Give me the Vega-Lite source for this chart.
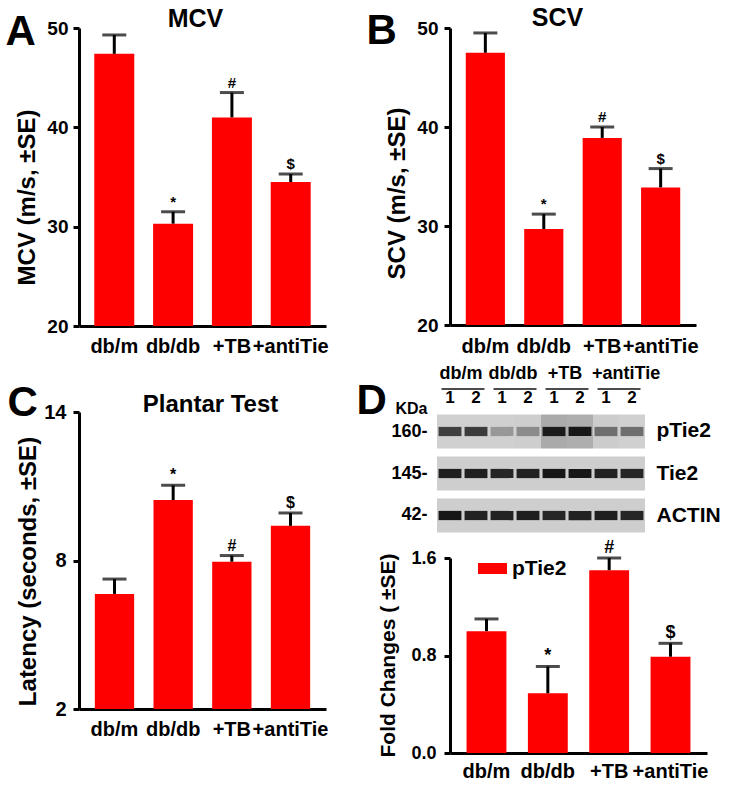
{
  "$schema": "https://vega.github.io/schema/vega-lite/v6.json",
  "padding": 5,
  "background": "white",
  "datasets": {
    "mcv": [
      {"group": "db/m", "value": 47.4, "upper": 49.3, "sig": ""},
      {"group": "db/db", "value": 30.3, "upper": 31.5, "sig": "*"},
      {"group": "+TB", "value": 41.0, "upper": 43.5, "sig": "#"},
      {"group": "+antiTie", "value": 34.5, "upper": 35.3, "sig": "$"}
    ],
    "scv": [
      {"group": "db/m", "value": 47.5, "upper": 49.5, "sig": ""},
      {"group": "db/db", "value": 29.7, "upper": 31.2, "sig": "*"},
      {"group": "+TB", "value": 38.9, "upper": 40.0, "sig": "#"},
      {"group": "+antiTie", "value": 33.9, "upper": 35.8, "sig": "$"}
    ],
    "plantar": [
      {"group": "db/m", "value": 6.65, "upper": 7.25, "sig": ""},
      {"group": "db/db", "value": 10.44, "upper": 11.04, "sig": "*"},
      {"group": "+TB", "value": 7.95, "upper": 8.2, "sig": "#"},
      {"group": "+antiTie", "value": 9.4, "upper": 9.92, "sig": "$"}
    ],
    "fold": [
      {"group": "db/m", "series": "pTie2", "value": 1.0, "upper": 1.1, "sig": ""},
      {"group": "db/db", "series": "pTie2", "value": 0.49, "upper": 0.71, "sig": "*"},
      {"group": "+TB", "series": "pTie2", "value": 1.5, "upper": 1.6, "sig": "#"},
      {"group": "+antiTie", "series": "pTie2", "value": 0.79, "upper": 0.9, "sig": "$"}
    ],
    "groups": [
      {"group": "db/m"}, {"group": "db/db"}, {"group": "+TB"}, {"group": "+antiTie"}
    ],
    "blot": [
      {"protein": "pTie2", "lane": "db/m-1", "intensity": 0.74, "bg": 0.05},
      {"protein": "pTie2", "lane": "db/m-2", "intensity": 0.76, "bg": 0.05},
      {"protein": "pTie2", "lane": "db/db-1", "intensity": 0.3, "bg": 0.05},
      {"protein": "pTie2", "lane": "db/db-2", "intensity": 0.36, "bg": 0.06},
      {"protein": "pTie2", "lane": "+TB-1", "intensity": 0.95, "bg": 0.22},
      {"protein": "pTie2", "lane": "+TB-2", "intensity": 0.97, "bg": 0.2},
      {"protein": "pTie2", "lane": "+antiTie-1", "intensity": 0.5, "bg": 0.07},
      {"protein": "pTie2", "lane": "+antiTie-2", "intensity": 0.5, "bg": 0.05},
      {"protein": "Tie2", "lane": "db/m-1", "intensity": 0.92, "bg": 0.06},
      {"protein": "Tie2", "lane": "db/m-2", "intensity": 0.92, "bg": 0.06},
      {"protein": "Tie2", "lane": "db/db-1", "intensity": 0.88, "bg": 0.06},
      {"protein": "Tie2", "lane": "db/db-2", "intensity": 0.9, "bg": 0.06},
      {"protein": "Tie2", "lane": "+TB-1", "intensity": 0.97, "bg": 0.06},
      {"protein": "Tie2", "lane": "+TB-2", "intensity": 0.96, "bg": 0.06},
      {"protein": "Tie2", "lane": "+antiTie-1", "intensity": 0.9, "bg": 0.06},
      {"protein": "Tie2", "lane": "+antiTie-2", "intensity": 0.88, "bg": 0.06},
      {"protein": "ACTIN", "lane": "db/m-1", "intensity": 0.97, "bg": 0.06},
      {"protein": "ACTIN", "lane": "db/m-2", "intensity": 0.9, "bg": 0.06},
      {"protein": "ACTIN", "lane": "db/db-1", "intensity": 0.9, "bg": 0.06},
      {"protein": "ACTIN", "lane": "db/db-2", "intensity": 0.92, "bg": 0.06},
      {"protein": "ACTIN", "lane": "+TB-1", "intensity": 0.88, "bg": 0.06},
      {"protein": "ACTIN", "lane": "+TB-2", "intensity": 0.9, "bg": 0.06},
      {"protein": "ACTIN", "lane": "+antiTie-1", "intensity": 0.92, "bg": 0.06},
      {"protein": "ACTIN", "lane": "+antiTie-2", "intensity": 0.88, "bg": 0.06}
    ]
  },
  "spacing": 27,
  "hconcat": [
    {
      "vconcat": [
        {
          "width": 247, "height": 298,
          "data": {"name": "mcv"},
          "layer": [
            {"layer": [
              {"mark": {"type": "bar", "color": "#ff0000"},
               "encoding": {
                 "x": {"field": "group", "type": "nominal", "scale": {"domain": ["db/m", "db/db", "+TB", "+antiTie"], "paddingInner": 0.32, "paddingOuter": 0.26},
                       "axis": {"title": null, "ticks": false, "labelAngle": 0, "labelPadding": 10, "labelFontSize": 20}},
                 "y": {"field": "value", "type": "quantitative", "scale": {"domain": [20, 50], "nice": false, "zero": false},
                       "axis": {"values": [20, 30, 40, 50], "title": "MCV (m/s, ±SE)", "titleFontSize": 24, "titleX": -45, "titleY": 169, "titleAngle": -90, "titleAlign": "center", "titleBaseline": "alphabetic", "labelFontSize": 19, "labelPadding": 5}},
                 "y2": {"datum": 20}
               }},
              {"mark": {"type": "rule", "color": "#000", "strokeWidth": 3},
               "encoding": {"x": {"field": "group", "type": "nominal"}, "y": {"field": "value", "type": "quantitative"}, "y2": {"field": "upper"}}},
              {"mark": {"type": "text", "fontSize": 15, "fontWeight": "bold", "dy": -5, "baseline": "alphabetic"},
               "encoding": {"x": {"field": "group", "type": "nominal"}, "y": {"field": "upper", "type": "quantitative"}, "text": {"field": "sig"}}}
            ]},
            {"mark": {"type": "tick", "orient": "horizontal", "size": 24, "thickness": 3, "color": "#000"},
             "encoding": {
               "x": {"field": "group", "type": "nominal", "scale": {"domain": ["db/m", "db/db", "+TB", "+antiTie"], "paddingInner": 0.32, "paddingOuter": 0.26},
                     "axis": {"orient": "top", "labels": false, "ticks": false, "domain": false, "title": "MCV", "titleFontSize": 25, "titleX": 116, "titleY": -2, "titleAlign": "center", "titleBaseline": "alphabetic"}},
               "y": {"field": "upper", "type": "quantitative", "scale": {"domain": [20, 50], "nice": false, "zero": false},
                     "axis": {"orient": "left", "labels": false, "ticks": false, "domain": false, "title": "A", "titleFontSize": 42, "titleX": -74, "titleY": 16, "titleAngle": 0, "titleAlign": "left", "titleBaseline": "alphabetic"}}
             }}
          ],
          "resolve": {"scale": {"x": "independent", "y": "independent"}}
        },
        {
          "width": 247, "height": 297,
          "data": {"name": "plantar"},
          "layer": [
            {"layer": [
              {"mark": {"type": "bar", "color": "#ff0000"},
               "encoding": {
                 "x": {"field": "group", "type": "nominal", "scale": {"domain": ["db/m", "db/db", "+TB", "+antiTie"], "paddingInner": 0.33, "paddingOuter": 0.27},
                       "axis": {"title": null, "ticks": false, "labelAngle": 0, "labelPadding": 10, "labelFontSize": 20}},
                 "y": {"field": "value", "type": "quantitative", "scale": {"domain": [2, 14], "nice": false, "zero": false},
                       "axis": {"values": [2, 8, 14], "title": "Latency (seconds, ±SE)", "titleFontSize": 24, "titleX": -44, "titleY": 159, "titleAngle": -90, "titleAlign": "center", "titleBaseline": "alphabetic", "labelFontSize": 20, "labelPadding": 7}},
                 "y2": {"datum": 2}
               }},
              {"mark": {"type": "rule", "color": "#000", "strokeWidth": 3},
               "encoding": {"x": {"field": "group", "type": "nominal"}, "y": {"field": "value", "type": "quantitative"}, "y2": {"field": "upper"}}},
              {"mark": {"type": "text", "fontSize": 16, "fontWeight": "bold", "dy": -5, "baseline": "alphabetic"},
               "encoding": {"x": {"field": "group", "type": "nominal"}, "y": {"field": "upper", "type": "quantitative"}, "text": {"field": "sig"}}}
            ]},
            {"mark": {"type": "tick", "orient": "horizontal", "size": 24, "thickness": 3, "color": "#000"},
             "encoding": {
               "x": {"field": "group", "type": "nominal", "scale": {"domain": ["db/m", "db/db", "+TB", "+antiTie"], "paddingInner": 0.33, "paddingOuter": 0.27},
                     "axis": {"orient": "top", "labels": false, "ticks": false, "domain": false, "title": "Plantar Test", "titleFontSize": 24, "titleX": 131, "titleY": -1, "titleAlign": "center", "titleBaseline": "alphabetic"}},
               "y": {"field": "upper", "type": "quantitative", "scale": {"domain": [2, 14], "nice": false, "zero": false},
                     "axis": {"orient": "left", "labels": false, "ticks": false, "domain": false, "title": "C", "titleFontSize": 42, "titleX": -72, "titleY": 3, "titleAngle": 0, "titleAlign": "left", "titleBaseline": "alphabetic"}}
             }}
          ],
          "resolve": {"scale": {"x": "independent", "y": "independent"}}
        }
      ],
      "spacing": 86,
      "bounds": "flush"
    },
    {
      "vconcat": [
        {
          "width": 246, "height": 297,
          "data": {"name": "scv"},
          "layer": [
            {"layer": [
              {"mark": {"type": "bar", "color": "#ff0000"},
               "encoding": {
                 "x": {"field": "group", "type": "nominal", "scale": {"domain": ["db/m", "db/db", "+TB", "+antiTie"], "paddingInner": 0.33, "paddingOuter": 0.27},
                       "axis": {"title": null, "ticks": false, "labelAngle": 0, "labelPadding": 11, "labelFontSize": 20}},
                 "y": {"field": "value", "type": "quantitative", "scale": {"domain": [20, 50], "nice": false, "zero": false},
                       "axis": {"values": [20, 30, 40, 50], "title": "SCV (m/s, ±SE)", "titleFontSize": 24, "titleX": -46, "titleY": 165, "titleAngle": -90, "titleAlign": "center", "titleBaseline": "alphabetic", "labelFontSize": 19, "labelPadding": 6}},
                 "y2": {"datum": 20}
               }},
              {"mark": {"type": "rule", "color": "#000", "strokeWidth": 3},
               "encoding": {"x": {"field": "group", "type": "nominal"}, "y": {"field": "value", "type": "quantitative"}, "y2": {"field": "upper"}}},
              {"mark": {"type": "text", "fontSize": 15, "fontWeight": "bold", "dy": -5, "baseline": "alphabetic"},
               "encoding": {"x": {"field": "group", "type": "nominal"}, "y": {"field": "upper", "type": "quantitative"}, "text": {"field": "sig"}}}
            ]},
            {"mark": {"type": "tick", "orient": "horizontal", "size": 24, "thickness": 3, "color": "#000"},
             "encoding": {
               "x": {"field": "group", "type": "nominal", "scale": {"domain": ["db/m", "db/db", "+TB", "+antiTie"], "paddingInner": 0.33, "paddingOuter": 0.27},
                     "axis": {"orient": "top", "labels": false, "ticks": false, "domain": false, "title": "SCV", "titleFontSize": 25, "titleX": 107, "titleY": -3, "titleAlign": "center", "titleBaseline": "alphabetic"}},
               "y": {"field": "upper", "type": "quantitative", "scale": {"domain": [20, 50], "nice": false, "zero": false},
                     "axis": {"orient": "left", "labels": false, "ticks": false, "domain": false, "title": "B", "titleFontSize": 42, "titleX": -84, "titleY": 15, "titleAngle": 0, "titleAlign": "left", "titleBaseline": "alphabetic"}}
             }}
          ],
          "resolve": {"scale": {"x": "independent", "y": "independent"}}
        },
        {
          "width": 195, "height": 44,
          "data": {"name": "groups"},
          "layer": [
            {"transform": [{"filter": "datum.group != '+antiTie'"}],
             "mark": {"type": "text", "align": "center", "baseline": "middle", "fontSize": 18, "fontWeight": "bold", "dx": -2},
             "encoding": {
               "x": {"field": "group", "type": "nominal", "scale": {"domain": ["db/m", "db/db", "+TB", "+antiTie"], "range": [-13, 195], "paddingInner": 0, "paddingOuter": 0}, "axis": null},
               "y": {"datum": "label", "type": "nominal", "scale": {"type": "point", "domain": ["label", "line"], "padding": 0.967, "align": 1}, "axis": null},
               "text": {"field": "group"}
             }},
            {"transform": [{"filter": "datum.group == '+antiTie'"}],
             "mark": {"type": "text", "align": "left", "baseline": "middle", "fontSize": 18, "fontWeight": "bold", "dx": -1},
             "encoding": {
               "x": {"field": "group", "type": "nominal", "bandPosition": 0},
               "y": {"datum": "label", "type": "nominal"},
               "text": {"field": "group"}
             }},
            {"mark": {"type": "tick", "orient": "horizontal", "size": 43, "thickness": 2, "color": "#000"},
             "encoding": {
               "x": {"field": "group", "type": "nominal"},
               "y": {"datum": "line", "type": "nominal"}
             }}
          ]
        },
        {
          "width": 195, "height": 129,
          "data": {"name": "blot"},
          "layer": [
            {"mark": {"type": "rect"},
             "encoding": {
               "x": {"field": "lane", "type": "nominal", "scale": {"domain": ["db/m-1", "db/m-2", "db/db-1", "db/db-2", "+TB-1", "+TB-2", "+antiTie-1", "+antiTie-2"], "range": [-13, 195], "paddingInner": 0, "paddingOuter": 0},
                     "axis": {"orient": "top", "ticks": false, "domain": false, "labelExpr": "slice(datum.label, -1)", "labelPadding": 3, "labelFontSize": 17, "labelAngle": 0, "title": null}},
               "y": {"field": "protein", "type": "nominal", "scale": {"domain": ["pTie2", "Tie2", "ACTIN"], "paddingInner": 0.19, "paddingOuter": 0.131},
                     "axis": {"orient": "left", "ticks": false, "domain": false, "labelExpr": "datum.label == 'pTie2' ? '160-' : datum.label == 'Tie2' ? '145-' : '42-'", "labelPadding": 23, "labelFontSize": 18, "title": "KDa", "titleAngle": 0, "titleX": -23, "titleY": 4, "titleAlign": "right", "titleBaseline": "alphabetic", "titleFontSize": 16}},
               "color": {"field": "bg", "type": "quantitative", "scale": {"domain": [0, 1], "range": ["#dcdcdc", "#111111"]}, "legend": null}
             }},
            {"mark": {"type": "rect"},
             "encoding": {
               "x": {"field": "lane", "type": "nominal", "scale": {"domain": ["db/m-1", "db/m-2", "db/db-1", "db/db-2", "+TB-1", "+TB-2", "+antiTie-1", "+antiTie-2"], "range": [-13, 195], "paddingInner": 0.12, "paddingOuter": 0.06},
                     "axis": {"orient": "bottom", "labels": false, "ticks": false, "domain": false, "title": "D", "titleFontSize": 42, "titleX": -94, "titleY": -125, "titleAngle": 0, "titleAlign": "left", "titleBaseline": "alphabetic"}},
               "y": {"field": "protein", "type": "nominal", "scale": {"domain": ["pTie2", "Tie2", "ACTIN"], "paddingInner": 0.78, "paddingOuter": 0.4255},
                     "axis": {"orient": "right", "ticks": false, "domain": false, "labelPadding": 11, "labelFontSize": 21, "title": null}},
               "color": {"field": "intensity", "type": "quantitative", "scale": {"domain": [0, 1], "range": ["#dcdcdc", "#111111"]}, "legend": null}
             }}
          ],
          "resolve": {"scale": {"x": "independent", "y": "independent"}}
        },
        {
          "width": 257, "height": 195,
          "data": {"name": "fold"},
          "layer": [
            {"mark": {"type": "bar"},
             "encoding": {
               "x": {"field": "group", "type": "nominal", "scale": {"domain": ["db/m", "db/db", "+TB", "+antiTie"], "paddingInner": 0.35, "paddingOuter": 0.27},
                     "axis": {"title": null, "ticks": false, "labelAngle": 0, "labelPadding": 8, "labelFontSize": 20}},
               "y": {"field": "value", "type": "quantitative", "scale": {"domain": [0, 1.6], "nice": false},
                     "axis": {"values": [0, 0.8, 1.6], "format": ".1f", "title": "Fold Changes ( ±SE)", "titleFontSize": 21, "titleX": -56, "titleY": 97, "titleAngle": -90, "titleAlign": "center", "titleBaseline": "alphabetic", "labelFontSize": 18, "labelPadding": 8}},
               "color": {"field": "series", "type": "nominal", "scale": {"range": ["#ff0000"]},
                         "legend": {"orient": "none", "legendX": 28, "legendY": -4, "title": null, "symbolType": "M-1,-0.38H1V0.38H-1Z", "symbolSize": 841, "symbolStrokeWidth": 0, "symbolOpacity": 1, "labelFontSize": 21, "labelFontWeight": "bold", "labelColor": "#000", "labelOffset": 5, "padding": 0}}
             }},
            {"mark": {"type": "rule", "color": "#000", "strokeWidth": 3},
             "encoding": {"x": {"field": "group", "type": "nominal"}, "y": {"field": "value", "type": "quantitative"}, "y2": {"field": "upper"}}},
            {"mark": {"type": "tick", "orient": "horizontal", "size": 24, "thickness": 3, "color": "#000"},
             "encoding": {"x": {"field": "group", "type": "nominal"}, "y": {"field": "upper", "type": "quantitative"}}},
            {"mark": {"type": "text", "fontSize": 18, "fontWeight": "bold", "dy": -5, "baseline": "alphabetic"},
             "encoding": {"x": {"field": "group", "type": "nominal"}, "y": {"field": "upper", "type": "quantitative"}, "text": {"field": "sig"}}}
          ]
        }
      ],
      "spacing": 20,
      "bounds": "flush"
    }
  ],
  "config": {
    "font": "Liberation Sans",
    "view": {"stroke": null},
    "axis": {"grid": false, "domainColor": "#000", "domainWidth": 3, "tickColor": "#000", "tickWidth": 3, "tickSize": 6, "labelColor": "#000", "titleColor": "#000", "labelFont": "Liberation Sans", "titleFont": "Liberation Sans", "labelFontWeight": "bold", "titleFontWeight": "bold", "labelOverlap": false},
    "text": {"font": "Liberation Sans", "fontWeight": "bold", "color": "#000"},
    "legend": {"labelFont": "Liberation Sans"}
  }
}
